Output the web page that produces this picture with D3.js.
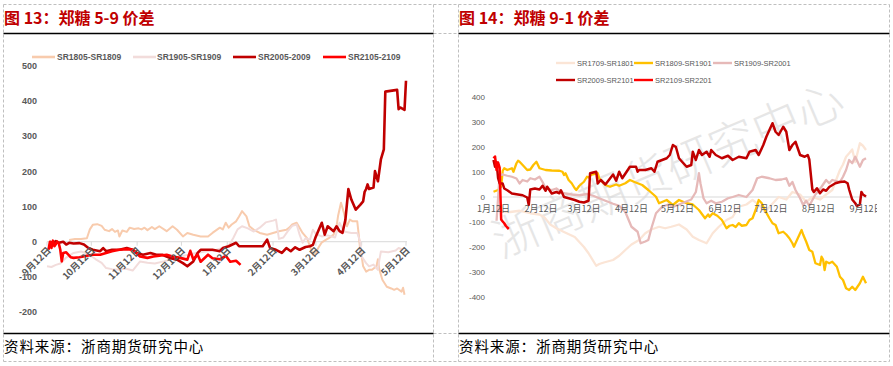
<!DOCTYPE html>
<html><head><meta charset="utf-8">
<script src="https://cdn.jsdelivr.net/npm/d3@7"></script>
<style>body{margin:0;background:#fff;} svg{display:block}</style>
</head><body><svg id="c" width="893" height="366"></svg>
<script>
// ---------- LEFT CHART DATA (郑糖 5-9 价差) ----------
const leftTitle = "图 13：郑糖 5-9 价差";
const leftNames = ["SR1805-SR1809", "SR1905-SR1909", "SR2005-2009", "SR2105-2109"];
const leftColors = ["#F8CBAD", "#F2DCDB", "#C00000", "#FF0000"];
const leftTickDates = ["09-12","10-12","11-12","12-12","01-12","02-12","03-12","04-12","05-12"];
const leftTickLabels = ["9月12日","10月12日","11月12日","12月12日","1月12日","2月12日","3月12日","4月12日","5月12日"];
const leftYTicks = [-200,-100,0,100,200,300,400,500];

const sr1805 = [["09-27",5],["10-01",8],["10-05",8],["10-09",10],["10-11",35],["10-13",48],["10-16",50],["10-19",45],["10-21",34],["10-24",30],["10-26",36],["10-28",28],["10-30",32],["10-31",15],["11-02",32],["11-05",28],["11-07",40],["11-10",36],["11-13",38],["11-15",35],["11-17",40],["11-19",33],["11-22",42],["11-24",36],["11-27",44],["12-02",30],["12-06",44],["12-09",34],["12-13",15],["12-16",25],["12-20",20],["12-25",15],["12-30",15],["01-02",25],["01-07",40],["01-09",35],["01-11",54],["01-13",40],["01-15",49],["01-18",58],["01-20",72],["01-22",87],["01-23",82],["01-25",72],["01-27",44],["01-30",34],["02-03",25],["02-08",20],["02-12",25],["02-16",30],["02-21",34],["02-23",40],["02-25",49],["02-28",54],["03-03",25],["03-06",10],["03-08",-13],["03-10",-37],["03-12",-30],["03-14",-15],["03-16",-2],["03-19",6],["03-21",11],["03-24",20],["03-26",44],["03-27",73],["03-29",111],["03-31",82],["04-02",44],["04-04",63],["04-06",58],["04-09",58],["04-10",20],["04-11",-23],["04-12",-42],["04-13",-70],["04-15",-85],["04-17",-80],["04-19",-80],["04-22",-70],["04-23",-50],["04-24",-80],["04-26",-108],["04-29",-128],["05-02",-133],["05-04",-137],["05-06",-133],["05-09",-142],["05-10",-131],["05-11",-151]];
const sr1905 = [["09-12",-70],["09-15",-72],["09-18",-66],["09-21",-62],["09-25",-45],["09-30",-32],["10-05",-28],["10-10",-35],["10-15",-50],["10-19",-60],["10-22",-75],["10-26",-78],["10-31",-80],["11-04",-76],["11-09",-82],["11-14",-56],["11-19",-60],["11-24",-62],["11-30",-56],["12-05",-50],["12-11",-42],["12-16",-38],["12-22",-32],["12-28",-28],["01-03",-25],["01-09",-18],["01-13",-12],["01-16",10],["01-19",35],["01-22",44],["01-26",38],["01-30",29],["02-03",40],["02-07",55],["02-12",60],["02-14",63],["02-16",8],["02-19",12],["02-22",30],["02-25",45],["02-28",49],["03-01",20],["03-03",-3],["03-05",10],["03-08",6],["03-10",34],["03-12",22],["03-16",15],["03-20",18],["03-25",12],["03-28",54],["03-31",29],["04-05",25],["04-09",25],["04-11",0],["04-12",-42],["04-15",-61],["04-17",-70],["04-20",-65],["04-23",-80],["04-24",-51],["04-25",-28],["04-30",-30],["05-05",-25],["05-07",-18],["05-10",-23]];
const sr2005 = [["09-14",0],["09-16",-5],["09-18",2],["09-20",-3],["09-23",0],["09-25",-8],["09-27",-3],["09-30",-5],["10-04",-4],["10-07",-8],["10-10",-18],["10-13",-23],["10-18",-27],["10-20",-18],["10-22",-27],["10-26",-23],["10-31",-23],["11-05",-18],["11-09",-23],["11-12",-32],["11-16",-37],["11-21",-32],["11-25",-37],["11-29",-37],["12-04",-46],["12-09",-51],["12-13",-61],["12-16",-70],["12-20",-56],["12-23",-32],["12-25",-23],["12-30",-23],["01-02",-23],["01-07",-27],["01-09",-18],["01-13",-13],["01-18",-3],["01-20",-13],["01-29",-13],["02-05",-13],["02-08",6],["02-10",-18],["02-14",-23],["02-18",-32],["02-21",-18],["02-24",-27],["02-27",-16],["03-01",-23],["03-05",-15],["03-08",-13],["03-10",-9],["03-12",15],["03-16",54],["03-18",20],["03-20",44],["03-24",30],["03-26",44],["03-28",30],["03-30",25],["04-01",63],["04-03",150],["04-05",120],["04-08",91],["04-11",105],["04-13",115],["04-14",142],["04-15",150],["04-16",163],["04-17",150],["04-20",154],["04-21",201],["04-23",172],["04-25",234],["04-27",263],["04-28",427],["05-06",432],["05-07",377],["05-08",382],["05-11",375],["05-12",458]];
const sr2105 = [["09-13",-23],["09-14",0],["09-15",-18],["09-16",3],["09-17",-13],["09-19",0],["09-20",-5],["09-21",-23],["09-22",-56],["09-23",-32],["09-25",-30],["09-28",-44],["09-30",-46],["10-04",-44],["10-09",-40],["10-13",-37],["10-18",-37],["10-22",-32],["10-26",-27],["10-31",-23],["11-05",-21],["11-09",-23],["11-14",-42],["11-19",-46],["11-23",-42],["11-27",-40],["12-02",-37],["12-06",-42],["12-11",-46],["12-16",-51],["12-18",-26],["12-20",-50],["12-23",-37],["12-25",-57],["12-30",-37],["01-02",-47],["01-07",-50],["01-11",-40],["01-14",-57],["01-18",-54],["01-21",-66]];

// ---------- RIGHT CHART DATA (郑糖 9-1 价差) ----------
const rightTitle = "图 14：郑糖 9-1 价差";
const rightNames = ["SR1709-SR1801", "SR1809-SR1901", "SR1909-SR2001", "SR2009-SR2101", "SR2109-SR2201"];
const rightColors = ["#FBE5D6", "#FFC000", "#E6B9B8", "#C00000", "#FF0000"];
const rightTickDates = ["01-12","02-12","03-12","04-12","05-12","06-12","07-12","08-12","09-12"];
const rightTickLabels = ["1月12日","2月12日","3月12日","4月12日","5月12日","6月12日","7月12日","8月12日","9月12日"];
const rightYTicks = [-400,-300,-200,-100,0,100,200,300,400];

const sr1709 = [["01-14",-40],["01-18",-59],["01-23",-60],["01-29",-55],["02-05",-65],["02-11",-70],["02-14",-80],["02-18",-110],["02-22",-125],["02-27",-140],["03-06",-160],["03-12",-200],["03-15",-225],["03-20",-275],["03-22",-268],["03-25",-262],["03-31",-252],["04-04",-235],["04-08",-212],["04-12",-190],["04-17",-172],["04-21",-145],["04-25",-130],["04-30",-119],["05-04",-125],["05-08",-119],["05-13",-110],["05-18",-130],["05-22",-159],["05-26",-172],["05-31",-185],["06-04",-145],["06-08",-119],["06-13",-92],["06-17",-80],["06-21",-39],["06-26",-30],["06-30",-12],["07-04",-30],["07-08",-60],["07-11",-40],["07-14",-20],["07-17",0],["07-22",-10],["07-26",20],["07-31",10],["08-04",-20],["08-08",0],["08-13",-10],["08-17",10],["08-21",28],["08-26",108],["08-28",130],["08-30",161],["09-01",175],["09-03",190],["09-05",140],["09-08",215],["09-10",205],["09-12",188]];
const sr1809 = [["01-12",21],["01-15",28],["01-17",41],["01-18",105],["01-19",115],["01-21",108],["01-24",115],["01-25",101],["01-27",135],["01-28",145],["01-29",141],["01-31",128],["02-03",108],["02-05",110],["02-07",128],["02-09",141],["02-11",115],["02-15",108],["02-19",106],["02-24",105],["02-26",101],["02-27",88],["02-28",95],["03-02",68],["03-04",55],["03-06",35],["03-07",28],["03-09",45],["03-12",61],["03-14",81],["03-15",78],["03-17",90],["03-21",95],["03-22",75],["03-24",61],["03-26",48],["03-29",41],["04-02",50],["04-04",45],["04-08",55],["04-11",68],["04-14",60],["04-19",48],["04-23",28],["04-28",1],["04-30",-25],["05-05",-12],["05-09",-32],["05-13",-12],["05-18",-25],["05-22",-30],["05-26",-52],["05-30",-85],["06-01",-70],["06-02",-79],["06-04",-65],["06-07",-75],["06-10",-92],["06-13",-125],["06-15",-115],["06-17",-112],["06-19",-120],["06-21",-105],["06-23",-115],["06-26",-112],["06-28",-92],["06-30",-85],["07-02",-52],["07-04",-12],["07-06",-25],["07-08",-52],["07-11",-85],["07-13",-105],["07-15",-112],["07-17",-145],["07-20",-139],["07-22",-150],["07-24",-165],["07-26",-185],["07-27",-199],["07-28",-185],["07-31",-145],["08-01",-132],["08-02",-150],["08-04",-179],["08-06",-212],["08-08",-219],["08-10",-265],["08-13",-272],["08-14",-239],["08-15",-250],["08-16",-292],["08-17",-259],["08-19",-265],["08-21",-259],["08-24",-279],["08-26",-319],["08-28",-332],["08-30",-365],["09-01",-372],["09-03",-359],["09-05",-372],["09-08",-345],["09-10",-319],["09-12",-345]];
const sr1909 = [["01-14",-95],["01-16",88],["01-18",90],["01-21",85],["01-24",81],["01-27",74],["01-29",54],["01-31",68],["02-03",62],["02-05",75],["02-08",70],["02-11",81],["02-13",60],["02-15",35],["02-19",28],["02-22",34],["02-25",20],["02-28",14],["03-04",10],["03-09",7],["03-14",12],["03-18",5],["03-22",-5],["03-26",-15],["03-31",-27],["04-04",-35],["04-08",-60],["04-12",-119],["04-16",-139],["04-18",-185],["04-21",-178],["04-23",-172],["04-25",-125],["04-28",-65],["05-02",-39],["05-06",-30],["05-09",-40],["05-15",-25],["05-21",-10],["05-24",20],["05-25",55],["05-26",95],["05-27",55],["05-29",-5],["05-31",-25],["06-03",-15],["06-06",-25],["06-10",-19],["06-14",-5],["06-17",0],["06-21",8],["06-26",0],["06-30",28],["07-03",75],["07-06",81],["07-11",75],["07-15",68],["07-19",70],["07-22",75],["07-24",45],["07-26",60],["07-28",28],["07-31",-5],["08-02",-32],["08-04",-15],["08-06",-35],["08-10",10],["08-14",41],["08-17",68],["08-19",55],["08-21",68],["08-26",60],["08-28",81],["08-30",108],["09-01",148],["09-03",135],["09-05",161],["09-08",121],["09-10",148],["09-12",155]];
const sr2009 = [["01-12",148],["01-13",121],["01-14",140],["01-15",75],["01-16",54],["01-18",54],["01-19",34],["01-21",27],["01-24",14],["01-27",11],["01-31",7],["02-03",-2],["02-04",-32],["02-05",30],["02-08",34],["02-11",30],["02-13",45],["02-15",25],["02-16",41],["02-19",14],["02-22",20],["02-24",15],["02-25",27],["02-27",0],["03-02",-5],["03-06",-12],["03-09",-19],["03-12",-22],["03-15",-15],["03-16",95],["03-20",101],["03-21",54],["03-23",68],["03-26",50],["03-31",90],["04-02",65],["04-04",101],["04-06",75],["04-11",121],["04-15",121],["04-16",101],["04-17",108],["04-21",108],["04-25",115],["04-27",101],["04-29",141],["05-05",155],["05-07",168],["05-09",208],["05-11",200],["05-13",155],["05-15",141],["05-18",121],["05-21",128],["05-22",181],["05-24",148],["05-26",188],["05-28",168],["05-31",181],["06-02",161],["06-03",188],["06-06",168],["06-10",155],["06-14",165],["06-17",148],["06-21",161],["06-26",155],["06-28",181],["07-02",188],["07-04",168],["07-07",208],["07-09",241],["07-11",268],["07-13",295],["07-15",261],["07-17",248],["07-20",281],["07-22",261],["07-24",188],["07-26",208],["07-28",221],["07-31",168],["08-03",161],["08-05",168],["08-06",150],["08-08",30],["08-09",20],["08-11",35],["08-13",15],["08-15",30],["08-17",25],["08-19",40],["08-23",55],["08-26",60],["08-29",62],["08-31",55],["09-01",30],["09-03",-10],["09-05",-25],["09-06",-35],["09-08",-30],["09-09",20],["09-10",10],["09-12",2]];
const sr2109 = [["01-12",155],["01-13",162],["01-14",108],["01-15",138],["01-16",118],["01-17",-90],["01-18",-98],["01-19",-105],["01-20",-115],["01-21",-122],["01-22",-128]];

const sourceText = "资料来源：浙商期货研究中心";
const watermark = "浙商期货研究中心";

// ---------- DRAWING ----------
const svg = d3.select("#c");
const CJK = "'Noto Sans CJK SC', 'Noto Sans', sans-serif";
const LAT = "'Liberation Sans', Arial, sans-serif";

// frame
const dashC = "#BFBFBF";
function dl(x1,y1,x2,y2){svg.append("line").attr("x1",x1).attr("y1",y1).attr("x2",x2).attr("y2",y2).attr("stroke",dashC).attr("stroke-width",1).attr("stroke-dasharray","3,2");}
dl(3.5,4.5,889.5,4.5); dl(3.5,361.5,889.5,361.5);
[3.5,433.5,458.5,889.5].forEach(x=>dl(x,4.5,x,361.5));
dl(433.5,33.5,458.5,33.5); dl(433.5,333.5,458.5,333.5);
function bl(x1,x2,y){svg.append("line").attr("x1",x1).attr("x2",x2).attr("y1",y).attr("y2",y).attr("stroke","#000").attr("stroke-width",1.5);}
bl(3.5,433.5,33.5); bl(458.5,889.5,33.5); bl(3.5,433.5,333.5); bl(458.5,889.5,333.5);

// titles & sources
function title(x,t){svg.append("text").attr("x",x).attr("y",24).attr("font-family",CJK).attr("font-weight",700).attr("font-size",16).attr("fill","#C00000").text(t);}
title(4,leftTitle); title(459,rightTitle);
function src(x){svg.append("text").attr("x",x).attr("y",352).attr("font-family",CJK).attr("font-size",14.5).attr("letter-spacing",0.9).attr("fill","#000").text(sourceText);}
src(4); src(459);

// ---------- LEFT CHART ----------
const parseL = s => { const [m,d] = s.split("-").map(Number); return new Date(m>=9?2019:2020, m-1, d); };
const xL = d3.scaleTime().domain([new Date(2019,8,12), new Date(2020,4,12)]).range([47,406]);
const yL = d3.scaleLinear().domain([-200,500]).range([312,66]);
const gL = svg.append("g");
gL.append("line").attr("x1",47).attr("x2",407).attr("y1",yL(0)).attr("y2",yL(0)).attr("stroke","#D9D9D9").attr("stroke-width",1);
leftTickDates.forEach(t=>{const x=xL(parseL(t)); gL.append("line").attr("x1",x).attr("x2",x).attr("y1",yL(0)).attr("y2",yL(0)+4).attr("stroke","#D9D9D9");});
gL.selectAll(".yl").data(leftYTicks).join("text").attr("x",37).attr("y",d=>yL(d)).attr("dy","0.35em")
  .attr("text-anchor","end").attr("font-family",LAT).attr("font-weight",700).attr("font-size",9).attr("fill","#595959").text(d=>d);
const lineL = d3.line().x(d=>xL(parseL(d[0]))).y(d=>yL(d[1]));
[[sr1805,0,2],[sr1905,1,2],[sr2005,2,2.6],[sr2105,3,2.6]].forEach(([data,i,w])=>{
  gL.append("path").attr("d",lineL(data)).attr("fill","none").attr("stroke",leftColors[i]).attr("stroke-width",w).attr("stroke-linejoin","round");
});
leftTickDates.forEach((t,i)=>{
  const x=xL(parseL(t));
  gL.append("text").attr("transform",`translate(${x+2},${yL(0)+7}) rotate(-45)`).attr("text-anchor","end").attr("dy","0.35em")
    .attr("font-family",CJK).attr("font-weight",700).attr("font-size",9.5).attr("fill","#595959").text(leftTickLabels[i]);
});
// legend
const legL = [[32,57],[133,157],[233,258],[323,348]];
legL.forEach(([lx,tx],i)=>{
  gL.append("line").attr("x1",lx).attr("x2",lx+23).attr("y1",57).attr("y2",57).attr("stroke",leftColors[i]).attr("stroke-width",2.6);
  gL.append("text").attr("x",tx).attr("y",57).attr("dy","0.35em").attr("font-family",LAT).attr("font-weight",700).attr("font-size",8.5).attr("fill","#595959").text(leftNames[i]);
});

// ---------- RIGHT CHART ----------
const parseR = s => { const [m,d] = s.split("-").map(Number); return new Date(2021, m-1, d); };
const xR = d3.scaleTime().domain([new Date(2021,0,12), new Date(2021,8,12)]).range([493.5,866]);
const yR = d3.scaleLinear().domain([-400,400]).range([297,97]);
const gR = svg.append("g");
gR.append("defs").append("clipPath").attr("id","clipR").append("rect").attr("x",459).attr("y",35).attr("width",418).attr("height",295);
// watermark
gR.append("text").attr("transform","translate(668,170) rotate(-23)").attr("text-anchor","middle").attr("dy","0.35em")
  .attr("font-family",CJK).attr("font-weight",300).attr("font-size",47).attr("fill","#E6E6E6").text(watermark);
gR.append("line").attr("x1",493).attr("x2",867).attr("y1",yR(0)).attr("y2",yR(0)).attr("stroke","#D9D9D9").attr("stroke-width",1);
gR.selectAll(".yr").data(rightYTicks).join("text").attr("x",485).attr("y",d=>yR(d)).attr("dy","0.35em")
  .attr("text-anchor","end").attr("font-family",LAT).attr("font-size",8).attr("fill","#595959").text(d=>d);
const lineR = d3.line().x(d=>xR(parseR(d[0]))).y(d=>yR(d[1]));
[sr1709,sr1809,sr1909,sr2009,sr2109].forEach((data,i)=>{
  gR.append("path").attr("d",lineR(data)).attr("fill","none").attr("stroke",rightColors[i]).attr("stroke-width",i>=3?2.5:2.3).attr("stroke-linejoin","round");
});
const xlabR = gR.append("g").attr("clip-path","url(#clipR)");
rightTickDates.forEach((t,i)=>{
  xlabR.append("text").attr("x",xR(parseR(t))).attr("y",yR(0)+12).attr("dy","0.35em").attr("text-anchor","middle")
    .attr("font-family",CJK).attr("font-size",9).attr("fill","#595959").text(rightTickLabels[i]);
});
// legend
const legR = [[556,577,63],[634,655,63],[713,734,63],[556,577,80],[634,655,80]];
legR.forEach(([lx,tx,ly],i)=>{
  gR.append("line").attr("x1",lx).attr("x2",lx+19).attr("y1",ly).attr("y2",ly).attr("stroke",rightColors[i]).attr("stroke-width",2.4);
  gR.append("text").attr("x",tx).attr("y",ly).attr("dy","0.35em").attr("font-family",LAT).attr("font-size",7.5).attr("fill","#595959").text(rightNames[i]);
});
</script></body></html>
